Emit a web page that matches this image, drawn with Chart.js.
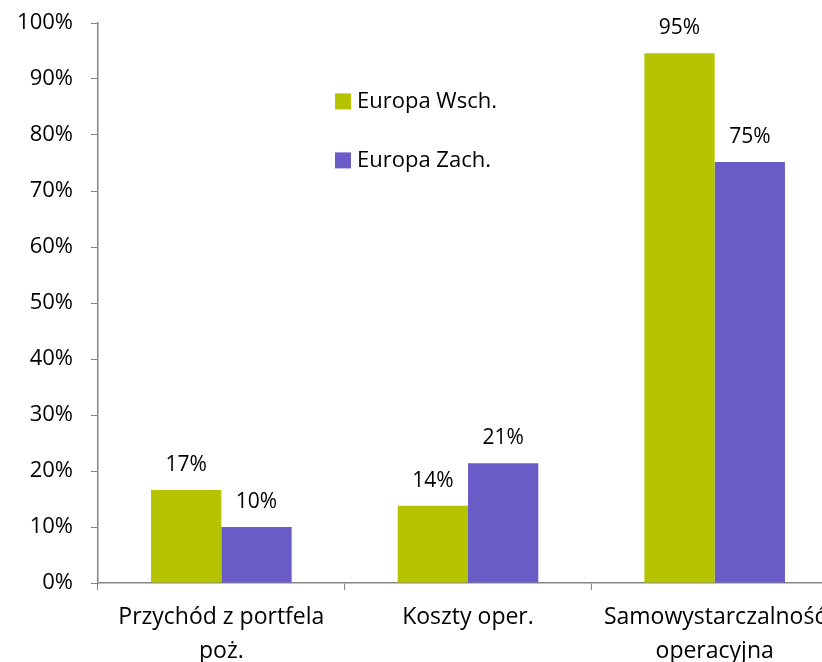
<!DOCTYPE html>
<html>
<head>
<meta charset="utf-8">
<script src="https://cdn.jsdelivr.net/npm/chart.js@4"></script>
<style>
  html, body { margin: 0; padding: 0; background: #fff; overflow: hidden; }
  #wrap { width: 842px; height: 662px; }
</style>
</head>
<body>
<div id="wrap"><canvas id="chart" width="842" height="662"></canvas></div>
<script>
const categories = [["Przychód z portfela", "poż."], "Koszty oper.", ["Samowystarczalność", "operacyjna"]];
const seriesNames = ["Europa Wsch.", "Europa Zach."];
const eastValues = [16.6, 13.8, 94.6];
const westValues = [10.0, 21.4, 75.2];
const seriesColors = ["#b5c300", "#6a5cc6"];
const yTicks = [0, 10, 20, 30, 40, 50, 60, 70, 80, 90, 100];

const FONT = "'Open Sans', sans-serif";
const AXIS = "#868686";

const valueLabels = {
  id: "valueLabels",
  afterDatasetsDraw(chart) {
    const ctx = chart.ctx;
    ctx.save();
    ctx.font = "21px " + FONT;
    ctx.fillStyle = "#000";
    ctx.textAlign = "center";
    ctx.textBaseline = "middle";
    chart.data.datasets.forEach((ds, i) => {
      chart.getDatasetMeta(i).data.forEach((bar, j) => {
        ctx.fillText(Math.round(ds.data[j]) + "%", bar.x, bar.y - 25);
      });
    });
    ctx.restore();
  }
};

const insideLegend = {
  id: "insideLegend",
  afterDraw(chart) {
    const ctx = chart.ctx;
    const y = chart.scales.y;
    ctx.save();
    ctx.font = "22px " + FONT;
    ctx.textBaseline = "middle";
    ctx.textAlign = "left";
    chart.data.datasets.forEach((ds, i) => {
      const cy = y.getPixelForValue(86) + i * 59;
      ctx.fillStyle = ds.backgroundColor;
      ctx.fillRect(335, cy - 8, 16, 16);
      ctx.fillStyle = "#000";
      ctx.fillText(ds.label, 357, cy);
    });
    ctx.restore();
  }
};

new Chart(document.getElementById("chart"), {
  type: "bar",
  data: {
    labels: categories,
    datasets: [
      { label: seriesNames[0], data: eastValues, backgroundColor: seriesColors[0] },
      { label: seriesNames[1], data: westValues, backgroundColor: seriesColors[1] }
    ]
  },
  options: {
    responsive: false,
    animation: false,
    layout: { padding: { top: 23, right: 4, left: 0, bottom: 0 } },
    datasets: { bar: { categoryPercentage: 0.57, barPercentage: 1.0 } },
    plugins: { legend: { display: false }, tooltip: { enabled: false } },
    scales: {
      x: {
        grid: { display: true, offset: true, drawOnChartArea: false, drawTicks: true, tickLength: 7, color: AXIS },
        border: { display: true, color: AXIS, width: 1.5 },
        ticks: {
          color: "#000", font: { family: FONT, size: 23, lineHeight: 1.45 }, padding: 11,
          maxRotation: 0, minRotation: 0, autoSkip: false
        },
        afterFit(scale) { scale.height = 79; }
      },
      y: {
        min: 0, max: 100,
        afterBuildTicks(scale) { scale.ticks = yTicks.map(v => ({ value: v })); },
        grid: { display: true, drawOnChartArea: false, drawTicks: true, tickLength: 7, color: AXIS },
        border: { display: true, color: AXIS, width: 1.5 },
        ticks: {
          color: "#000", font: { family: FONT, size: 22 }, padding: 18,
          callback: v => v + "%"
        },
        afterFit(scale) {
          scale.width = 98;
          scale.paddingTop = 0;
          scale.paddingBottom = 0;
        }
      }
    }
  },
  plugins: [valueLabels, insideLegend]
});
</script>
</body>
</html>
